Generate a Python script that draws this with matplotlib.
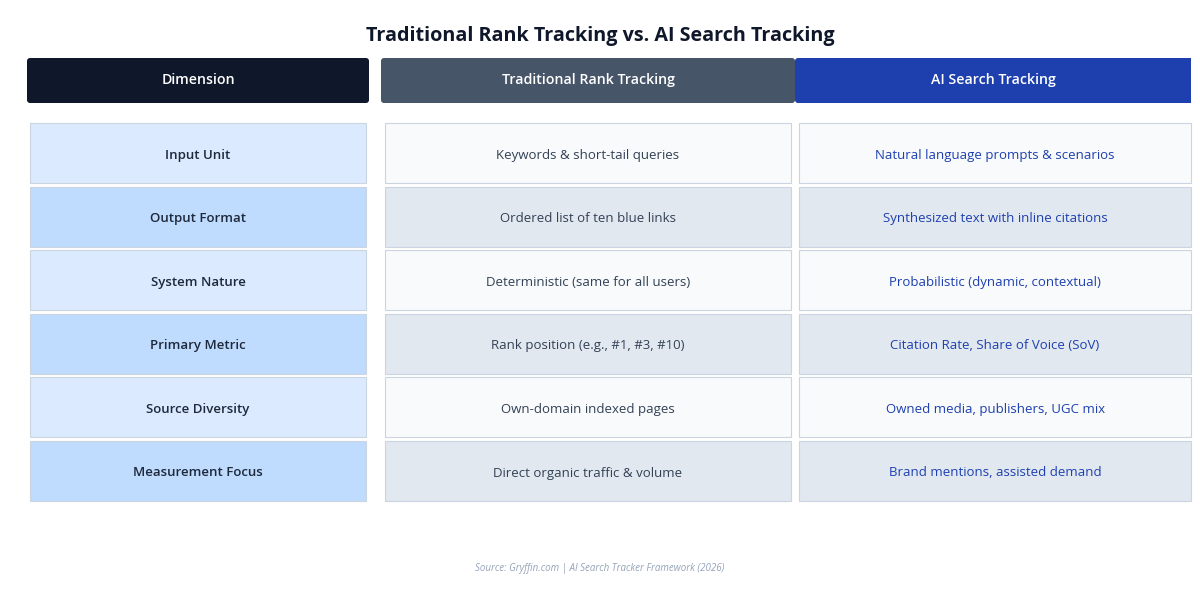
import matplotlib.pyplot as plt
from matplotlib.patches import FancyBboxPatch, Rectangle

plt.rcParams['font.family'] = ['Open Sans', 'DejaVu Sans']

title = "Traditional Rank Tracking vs. AI Search Tracking"
headers = ["Dimension", "Traditional Rank Tracking", "AI Search Tracking"]
dimensions = ["Input Unit", "Output Format", "System Nature", "Primary Metric",
              "Source Diversity", "Measurement Focus"]
traditional = ["Keywords & short-tail queries", "Ordered list of ten blue links",
               "Deterministic (same for all users)", "Rank position (e.g., #1, #3, #10)",
               "Own-domain indexed pages", "Direct organic traffic & volume"]
ai_search = ["Natural language prompts & scenarios", "Synthesized text with inline citations",
             "Probabilistic (dynamic, contextual)", "Citation Rate, Share of Voice (SoV)",
             "Owned media, publishers, UGC mix", "Brand mentions, assisted demand"]
source = "Source: Gryffin.com | AI Search Tracker Framework (2026)"


def main() -> None:
    fig = plt.figure(figsize=(12, 5.95), dpi=100)
    ax = fig.add_axes([0, 0, 1, 1])
    ax.set_xlim(0, 1200)
    ax.set_ylim(595, 0)
    ax.axis('off')

    ax.text(600, 36, title, ha='center', va='center', fontsize=14.2, fontweight='bold', color='#0f172a')

    # header boxes (last one runs off the right edge)
    head_x = [(27, 369), (381, 795), (795, 1200)]
    head_col = ['#0f172a', '#475569', '#1e40af']
    for (x0, x1), c, h in zip(head_x, head_col, headers):
        ax.add_patch(FancyBboxPatch((x0, 58), x1 - x0, 45, boxstyle="round,pad=0,rounding_size=3",
                                    fc=c, ec='none'))
    ax.add_patch(Rectangle((1191, 50), 20, 60, fc='white', ec='none'))
    for (x0, x1), h in zip([(27, 369), (381, 795), (795, 1191)], headers):
        ax.text((x0 + x1) / 2, 80, h, ha='center', va='center', fontsize=10.2,
                fontweight='semibold', color='white')

    # body cells
    cell_x = [(30, 366), (385, 791), (799, 1191)]
    fills = [('#dbeafe', '#bfdbfe'), ('#f8fafc', '#e2e8f0'), ('#f8fafc', '#e2e8f0')]
    txt_col = ['#1e293b', '#334155', '#1e40af']
    weights = ['semibold', 'normal', 'normal']
    columns = [dimensions, traditional, ai_search]
    for ci, col in enumerate(columns):
        x0, x1 = cell_x[ci]
        for ri, val in enumerate(col):
            y0 = 123 + ri * 63.6
            ax.add_patch(Rectangle((x0, y0), x1 - x0, 60, fc=fills[ci][ri % 2],
                                   ec='#cbd5e1', lw=0.8))
            ax.text((x0 + x1) / 2, y0 + 32, val, ha='center', va='center', fontsize=9.5,
                    fontweight=weights[ci], color=txt_col[ci])

    ax.text(600, 568, source, ha='center', va='center', fontsize=7, style='italic', color='#94a3b8')

    fig.savefig('out.png', dpi=100, facecolor='white')


if __name__ == '__main__':
    main()
